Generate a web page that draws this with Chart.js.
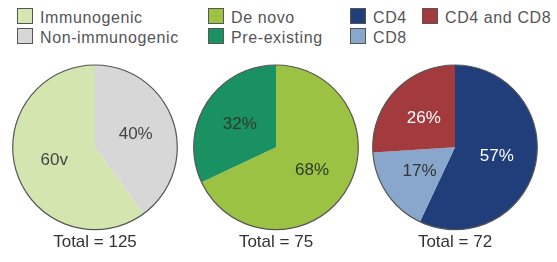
<!DOCTYPE html>
<html>
<head>
<meta charset="utf-8">
<script src="https://cdn.jsdelivr.net/npm/chart.js@4/dist/chart.umd.min.js"></script>
<style>
  body { margin: 0; background: #fff; width: 557px; height: 262px; overflow: hidden; position: relative; font-family: "Liberation Sans", Arial, sans-serif; }
  .pie { position: absolute; top: 63px; width: 180px; height: 192px; }
  .legend { position: absolute; top: 8px; color: #555; font-size: 16px; letter-spacing: 0.6px; }
  .item { position: absolute; white-space: nowrap; height: 17px; line-height: 17px; }
  .item span.box { position: absolute; left: 0; top: 0; width: 14px; height: 14px; border: 1.5px solid #555; }
  .item span.txt { position: absolute; left: 23px; top: 1px; }
</style>
</head>
<body>
<div class="legend" id="legend1" style="left:17px"></div>
<div class="legend" id="legend2" style="left:208px"></div>
<div class="legend" id="legend3" style="left:350px"></div>
<div class="pie" style="left:5px"><canvas id="pie1"></canvas></div>
<div class="pie" style="left:186px"><canvas id="pie2"></canvas></div>
<div class="pie" style="left:365px"><canvas id="pie3"></canvas></div>
<script>
// immunogenic vs non-immunogenic
var cats1 = ["Non-immunogenic", "Immunogenic"];
var vals1 = [40, 60];
var text1 = ["40%", "60v"];
var cols1 = ["#d7d7d7", "#d4e5b0"];

// de novo vs pre-existing
var cats2 = ["De novo", "Pre-existing"];
var vals2 = [68, 32];
var text2 = ["68%", "32%"];
var cols2 = ["#9cc243", "#1a9162"];

// CD4 / CD8
var cats3 = ["CD4", "CD8", "CD4 and CD8"];
var vals3 = [57, 17, 26];
var text3 = ["57%", "17%", "26%"];
var cols3 = ["#1f3e7a", "#89a7cc", "#a33b3e"];

var totals = ["Total = 125", "Total = 75", "Total = 72"];

// legend order as in the picture
function legend(id, cats, cols, order, spots) {
  var el = document.getElementById(id);
  order.forEach(function (i, k) {
    var d = document.createElement("div");
    d.className = "item";
    d.style.left = spots[k][0] + "px";
    d.style.top = spots[k][1] + "px";
    d.innerHTML = '<span class="box" style="background:' + cols[i] + '"></span><span class="txt">' + cats[i] + '</span>';
    el.appendChild(d);
  });
}
legend("legend1", cats1, cols1, [1, 0], [[0, 0], [0, 20]]);
legend("legend2", cats2, cols2, [0, 1], [[0, 0], [0, 20]]);
legend("legend3", cats3, cols3, [0, 1, 2], [[0, 0], [0, 20], [72, 0]]);

var sliceText = {
  id: "sliceText",
  afterDatasetsDraw: function (chart) {
    var ctx = chart.ctx;
    var meta = chart.getDatasetMeta(0);
    var opts = chart.options.plugins.sliceText;
    ctx.save();
    // outline round the pie
    var a0 = meta.data[0];
    ctx.beginPath();
    ctx.arc(a0.x, a0.y, a0.outerRadius, 0, Math.PI * 2);
    ctx.strokeStyle = "#555";
    ctx.lineWidth = 1.2;
    ctx.stroke();
    ctx.font = "17px 'Liberation Sans', Arial, sans-serif";
    ctx.textAlign = "center";
    ctx.textBaseline = "middle";
    meta.data.forEach(function (arc, i) {
      var mid = (arc.startAngle + arc.endAngle) / 2;
      var r = arc.outerRadius * 0.52;
      ctx.fillStyle = opts.colors[i];
      ctx.fillText(opts.text[i], arc.x + Math.cos(mid) * r, arc.y + Math.sin(mid) * r);
    });
    ctx.restore();
  }
};

function makePie(id, cats, vals, cols, text, textCols, total) {
  return new Chart(document.getElementById(id), {
    type: "pie",
    data: {
      labels: cats,
      datasets: [{
        data: vals,
        backgroundColor: cols,
        borderWidth: 0
      }]
    },
    options: {
      responsive: true,
      maintainAspectRatio: false,
      animation: false,
      layout: { padding: { top: 2, bottom: 0 } },
      plugins: {
        legend: { display: false },
        tooltip: { enabled: false },
        title: {
          display: true,
          position: "bottom",
          text: total,
          color: "#333",
          font: { size: 17, family: "'Liberation Sans', Arial, sans-serif", weight: "normal" },
          padding: { top: 3, bottom: 2 }
        },
        sliceText: { text: text, colors: textCols }
      }
    },
    plugins: [sliceText]
  });
}

makePie("pie1", cats1, vals1, cols1, text1, ["#444", "#444"], totals[0]);
makePie("pie2", cats2, vals2, cols2, text2, ["#2d3b2a", "#2d3b2a"], totals[1]);
makePie("pie3", cats3, vals3, cols3, text3, ["#fff", "#333", "#fff"], totals[2]);
</script>
</body>
</html>
